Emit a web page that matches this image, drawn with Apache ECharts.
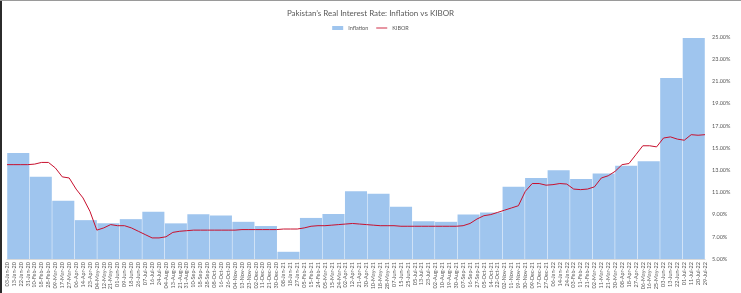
<!DOCTYPE html>
<html>
<head>
<meta charset="utf-8">
<script src="https://cdn.jsdelivr.net/npm/echarts@6/dist/echarts.min.js"></script>
<style>
  html, body { margin: 0; padding: 0; background: #fff; }
  #wrap { position: relative; width: 741px; height: 293px; overflow: hidden; background: #fff; }
  #chart { position: absolute; left: 0; top: 0; width: 741px; height: 293px; }
  #bl { position: absolute; left: 0; top: 0; width: 2px; height: 293px; background: #2b2b2b; }
  #bt { position: absolute; left: 0; top: 0; width: 741px; height: 1px; background: #9a9a9a; }
</style>
</head>
<body>
<div id="wrap"><div id="chart"></div><div id="bl"></div><div id="bt"></div></div>
<script>
// Monthly CPI inflation (YoY, %), Jan-2020 .. Jul-2022
const months = ['Jan-20','Feb-20','Mar-20','Apr-20','May-20','Jun-20','Jul-20','Aug-20','Sep-20','Oct-20','Nov-20','Dec-20',
  'Jan-21','Feb-21','Mar-21','Apr-21','May-21','Jun-21','Jul-21','Aug-21','Sep-21','Oct-21','Nov-21','Dec-21',
  'Jan-22','Feb-22','Mar-22','Apr-22','May-22','Jun-22','Jul-22'];
const inflation = [14.56,12.40,10.24,8.50,8.22,8.59,9.26,8.21,9.04,8.91,8.35,7.97,
  5.65,8.70,9.05,11.10,10.87,9.70,8.40,8.35,9.00,9.20,11.50,12.30,
  13.00,12.20,12.70,13.40,13.80,21.30,24.90];

// Date tick labels along the bottom axis
const dateLabels = ['03-Jan-20','13-Jan-20','22-Jan-20','31-Jan-20','10-Feb-20','18-Feb-20','28-Feb-20','09-Mar-20','17-Mar-20','27-Mar-20',
  '06-Apr-20','14-Apr-20','23-Apr-20','04-May-20','12-May-20','21-May-20','01-Jun-20','09-Jun-20','18-Jun-20','26-Jun-20',
  '07-Jul-20','16-Jul-20','24-Jul-20','04-Aug-20','13-Aug-20','21-Aug-20','31-Aug-20','10-Sep-20','18-Sep-20','28-Sep-20',
  '08-Oct-20','16-Oct-20','26-Oct-20','04-Nov-20','13-Nov-20','23-Nov-20','02-Dec-20','11-Dec-20','21-Dec-20','30-Dec-20',
  '08-Jan-21','18-Jan-21','27-Jan-21','05-Feb-21','15-Feb-21','24-Feb-21','05-Mar-21','15-Mar-21','24-Mar-21','02-Apr-21',
  '12-Apr-21','21-Apr-21','30-Apr-21','10-May-21','18-May-21','28-May-21','07-Jun-21','15-Jun-21','25-Jun-21','05-Jul-21',
  '13-Jul-21','23-Jul-21','02-Aug-21','10-Aug-21','19-Aug-21','30-Aug-21','07-Sep-21','16-Sep-21','27-Sep-21','05-Oct-21',
  '14-Oct-21','22-Oct-21','02-Nov-21','11-Nov-21','19-Nov-21','30-Nov-21','09-Dec-21','17-Dec-21','27-Dec-21','06-Jan-22',
  '14-Jan-22','24-Jan-22','03-Feb-22','11-Feb-22','21-Feb-22','02-Mar-22','11-Mar-22','21-Mar-22','30-Mar-22','08-Apr-22',
  '18-Apr-22','27-Apr-22','06-May-22','16-May-22','25-May-22','03-Jun-22','13-Jun-22','22-Jun-22','01-Jul-22','11-Jul-22',
  '20-Jul-22','29-Jul-22'];

// KIBOR (%) at each date label
const kibor = [13.5,13.5,13.5,13.5,13.55,13.7,13.7,13.2,12.4,12.3,
  11.3,10.5,9.3,7.6,7.8,8.1,8.0,8.0,7.8,7.5,
  7.2,6.9,6.9,7.0,7.4,7.5,7.55,7.6,7.6,7.6,
  7.6,7.6,7.6,7.6,7.65,7.65,7.65,7.65,7.65,7.65,
  7.7,7.7,7.7,7.8,7.95,8.0,8.0,8.05,8.1,8.15,
  8.2,8.15,8.1,8.05,8.0,8.0,8.0,7.95,7.95,7.95,
  7.95,7.95,7.95,7.95,7.95,7.95,8.0,8.2,8.6,8.9,
  9.0,9.2,9.4,9.6,9.8,11.1,11.8,11.8,11.65,11.7,
  11.8,11.75,11.3,11.25,11.3,11.5,12.3,12.5,12.9,13.5,
  13.6,14.4,15.2,15.2,15.1,15.9,16.0,15.8,15.7,16.2,
  16.15,16.2];

const yMin = 5, yMax = 25;
const FONT = 'Lato, "Open Sans", sans-serif';

const chart = echarts.init(document.getElementById('chart'), null, { renderer: 'canvas' });
chart.setOption({
  animation: false,
  backgroundColor: '#ffffff',
  textStyle: { fontFamily: FONT },
  title: {
    text: 'Pakistan\u2019s Real Interest Rate: Inflation vs KIBOR',
    left: 'center', top: 4,
    textStyle: { fontSize: 8, fontWeight: 'normal', color: '#595959', fontFamily: FONT }
  },
  legend: {
    top: 20, left: 'center',
    itemWidth: 11, itemHeight: 4, itemGap: 8,
    textStyle: { fontSize: 5.5, color: '#595959', fontFamily: FONT },
    data: [
      { name: 'Inflation', icon: 'rect' },
      { name: 'KIBOR', icon: 'path://M0,0L20,0L20,1.6L0,1.6Z' }
    ]
  },
  grid: { left: 7, right: 36, top: 37, bottom: 34, containLabel: false },
  xAxis: [
    {
      type: 'category', data: dateLabels, boundaryGap: false,
      axisLine: { show: true, lineStyle: { color: '#d9d9d9' } },
      axisTick: { show: false },
      axisLabel: { interval: 0, rotate: 90, fontSize: 5.5, color: '#595959', margin: 3, fontFamily: FONT }
    },
    {
      type: 'category', data: months, boundaryGap: true, show: false
    }
  ],
  yAxis: {
    type: 'value', position: 'right', min: yMin, max: yMax, interval: 1,
    axisLine: { show: false }, axisTick: { show: false }, splitLine: { show: false },
    axisLabel: {
      fontSize: 5.5, color: '#595959', margin: 7, fontFamily: FONT,
      formatter: function (v) { return (Math.round(v) % 2 === 1) ? v.toFixed(2) + '%' : ''; }
    }
  },
  series: [
    {
      name: 'Inflation', type: 'bar', xAxisIndex: 1, data: inflation,
      barCategoryGap: '2%',
      itemStyle: { color: '#9fc5ee' }
    },
    {
      name: 'KIBOR', type: 'line', xAxisIndex: 0, data: kibor,
      symbol: 'none', z: 5,
      lineStyle: { color: '#c8102e', width: 1 },
      itemStyle: { color: '#c8102e' }
    }
  ]
});
</script>
</body>
</html>
